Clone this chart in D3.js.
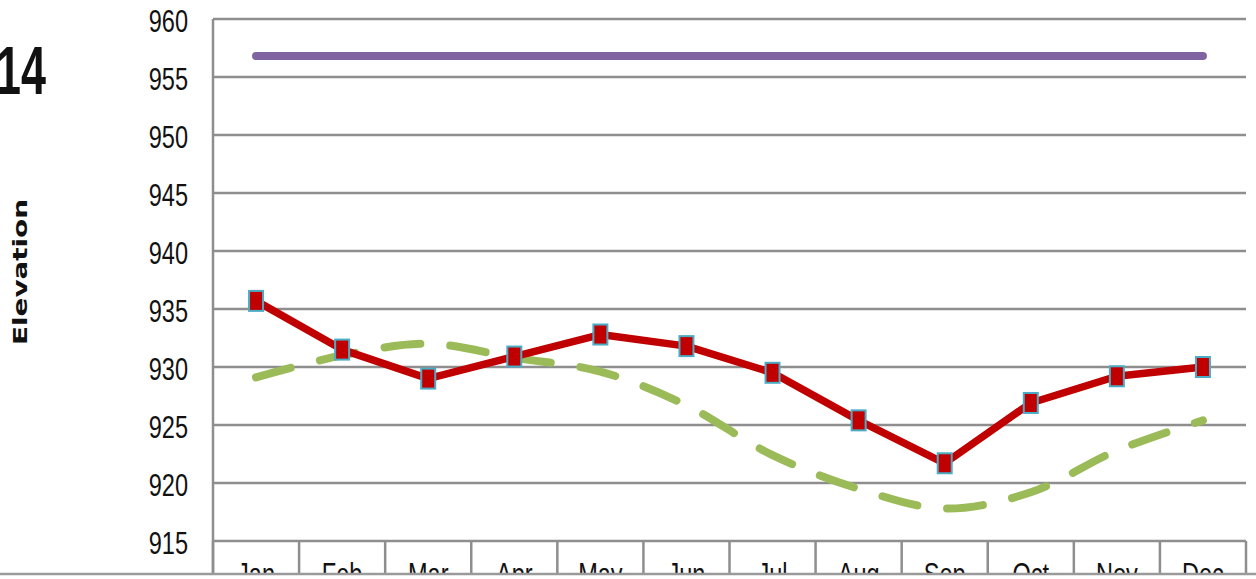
<!DOCTYPE html>
<html><head><meta charset="utf-8">
<script src="https://cdn.jsdelivr.net/npm/d3@7"></script>
<style>html,body{margin:0;padding:0;background:#fff;overflow:hidden}</style>
</head><body>
<svg id="c" width="1256" height="579"></svg>
<script>
const months = ["Jan","Feb","Mar","Apr","May","Jun","Jul","Aug","Sep","Oct","Nov","Dec"];
const observed = [935.7, 931.5, 929.0, 930.9, 932.8, 931.8, 929.5, 925.4, 921.7, 926.9, 929.2, 930.0];
const average = [929.1, 931.0, 932.0, 930.8, 929.6, 926.7, 922.4, 919.5, 917.8, 919.2, 922.8, 925.4];
const fullPool = [956.8, 956.8, 956.8, 956.8, 956.8, 956.8, 956.8, 956.8, 956.8, 956.8, 956.8, 956.8];
const yTicks = [915, 920, 925, 930, 935, 940, 945, 950, 955, 960];

const svg = d3.select("#c");
const L = 213, R = 1246, T = 19, B = 541;
const x = d3.scaleBand().domain(months).range([L, R]);
const y = d3.scaleLinear().domain([915, 960]).range([B, T]);
const cx = m => x(m) + x.bandwidth() / 2;
const grid = "#8e8e8e";
const narrowFont = "'Liberation Sans', Arial, sans-serif";

// gridlines
svg.append("g").selectAll("line").data(yTicks).join("line")
  .attr("x1", L).attr("x2", R).attr("y1", d => y(d)).attr("y2", d => y(d))
  .attr("stroke", grid).attr("stroke-width", 2.5);

// left axis
svg.append("line").attr("x1", L).attr("x2", L).attr("y1", T).attr("y2", 574)
  .attr("stroke", grid).attr("stroke-width", 2.5);

// category separators
const bounds = months.map(m => x(m)).concat([R]);
svg.append("g").selectAll("line").data(bounds).join("line")
  .attr("x1", d => d).attr("x2", d => d).attr("y1", B).attr("y2", 574)
  .attr("stroke", grid).attr("stroke-width", 2.5);

// y tick labels (condensed)
svg.append("g").selectAll("text").data(yTicks).join("text")
  .attr("transform", d => `translate(188,${y(d) + 13}) scale(0.76,1)`)
  .attr("text-anchor", "end")
  .style("font-family", narrowFont)
  .style("font-size", "31px").attr("fill", "#111")
  .text(d => d);

// x labels (clipped)
svg.append("defs").append("clipPath").attr("id", "clipx")
  .append("rect").attr("x", 0).attr("y", 541).attr("width", 1256).attr("height", 32);
svg.append("g").attr("clip-path", "url(#clipx)").selectAll("text").data(months).join("text")
  .attr("transform", d => `translate(${cx(d)},585) scale(0.76,1)`)
  .attr("text-anchor", "middle")
  .style("font-family", narrowFont)
  .style("font-size", "31px").attr("fill", "#111")
  .text(d => d);

// bottom border
svg.append("line").attr("x1", 0).attr("x2", 1256).attr("y1", 574).attr("y2", 574)
  .attr("stroke", "#9a9a9a").attr("stroke-width", 2.5);

// y axis title
svg.append("text")
  .attr("transform", "translate(27,272) rotate(-90)")
  .attr("text-anchor", "middle")
  .attr("textLength", 146).attr("lengthAdjust", "spacingAndGlyphs")
  .style("font-family", "'DejaVu Sans', sans-serif").style("font-weight", "bold")
  .style("font-size", "19px").attr("fill", "#111")
  .text("Elevation");

// partial title
svg.append("text").attr("transform", "translate(46,94) scale(0.66,1)").attr("text-anchor", "end")
  .style("font-family", narrowFont)
  .style("font-weight", "bold").style("font-size", "68px").attr("fill", "#111")
  .text("14");

// full pool line
const line = d3.line().x((d, i) => cx(months[i])).y(d => y(d));
svg.append("path").datum(fullPool).attr("d", line)
  .attr("fill", "none").attr("stroke", "#8064A2").attr("stroke-width", 8).attr("stroke-linecap", "round");

// average (smooth dashed)
const smooth = d3.line().x((d, i) => cx(months[i])).y(d => y(d)).curve(d3.curveCatmullRom.alpha(0.5));
svg.append("path").datum(average).attr("d", smooth)
  .attr("fill", "none").attr("stroke", "#9BBB59").attr("stroke-width", 8)
  .attr("stroke-linecap", "round").attr("stroke-dasharray", "36 30");

// observed
svg.append("path").datum(observed).attr("d", line)
  .attr("fill", "none").attr("stroke", "#C00000").attr("stroke-width", 7.5).attr("stroke-linejoin", "round");
svg.append("g").selectAll("rect").data(observed).join("rect")
  .attr("x", (d, i) => cx(months[i]) - 7).attr("y", d => y(d) - 10)
  .attr("width", 14).attr("height", 20)
  .attr("fill", "#C00000").attr("stroke", "#4BACC6").attr("stroke-width", 2);
</script>
</body></html>
